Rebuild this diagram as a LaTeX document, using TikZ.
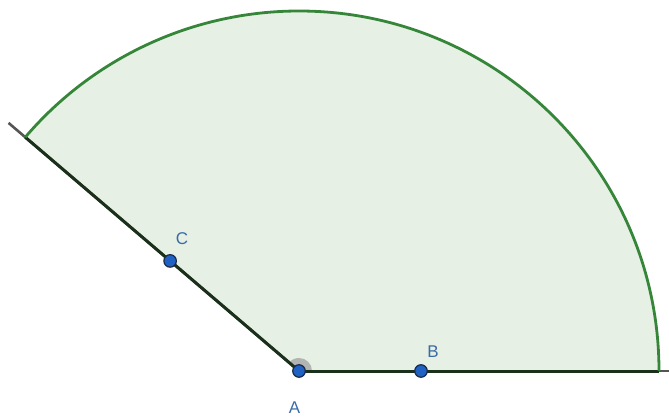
\documentclass[tikz,border=0pt]{standalone}
\usepackage{fontspec}
\setmainfont{Liberation Sans}
\usetikzlibrary{calc}
\definecolor{arcgreen}{HTML}{36863A}
\definecolor{fillgreen}{HTML}{E6F0E4}
\definecolor{seg}{HTML}{1A301A}
\definecolor{raygray}{HTML}{555555}
\definecolor{ptblue}{HTML}{1F62C4}
\definecolor{ptedge}{HTML}{1A2A48}
\definecolor{lblblue}{HTML}{3A6BA6}
\tikzset{
  pt/.style={circle, fill=ptblue, draw=ptedge, line width=1.2pt, minimum size=12.5pt, inner sep=0pt},
  lbl/.style={text=lblblue, font=\fontsize{17}{17}\selectfont, inner sep=0pt},
}
\begin{document}
\begin{tikzpicture}[x=1pt,y=-1pt]
\useasboundingbox (0,0) rectangle (669,417);
\coordinate (A) at (299,371);
% sector fill
\fill[fillgreen] (A) -- ++(0:360) arc[start angle=0, end angle=-139.5, radius=360] -- cycle;
% rays
\coordinate (Rr) at (669,371);
\coordinate (Rl) at ($(A)+(-139.5:382)$);
\draw[raygray, line width=2.6pt] (A) -- (Rr);
\draw[raygray, line width=2.6pt] (A) -- (Rl);
% angle marker
\fill[gray!70, opacity=0.8] (A) -- ++(0:13) arc[start angle=0, end angle=-139.5, radius=13] -- cycle;
% segments
\draw[seg, line width=3pt] (A) -- ++(0:360) coordinate (P1);
\draw[seg, line width=3pt] (A) -- ++(-139.5:360) coordinate (P2);
% arc
\draw[arcgreen, line width=2.8pt] (P1) arc[start angle=0, end angle=-139.5, radius=360];
% points
\node[pt] (a) at (A) {};
\node[pt] (b) at (421,371) {};
\node[pt] (c) at ($(A)+(-139.5:169.5)$) {};
\node[lbl] (la) at (294.5,408) {A};
\node[lbl] (lb) at (433,351.5) {B};
\node[lbl] (lc) at (182,239) {C};
\end{tikzpicture}
\end{document}
